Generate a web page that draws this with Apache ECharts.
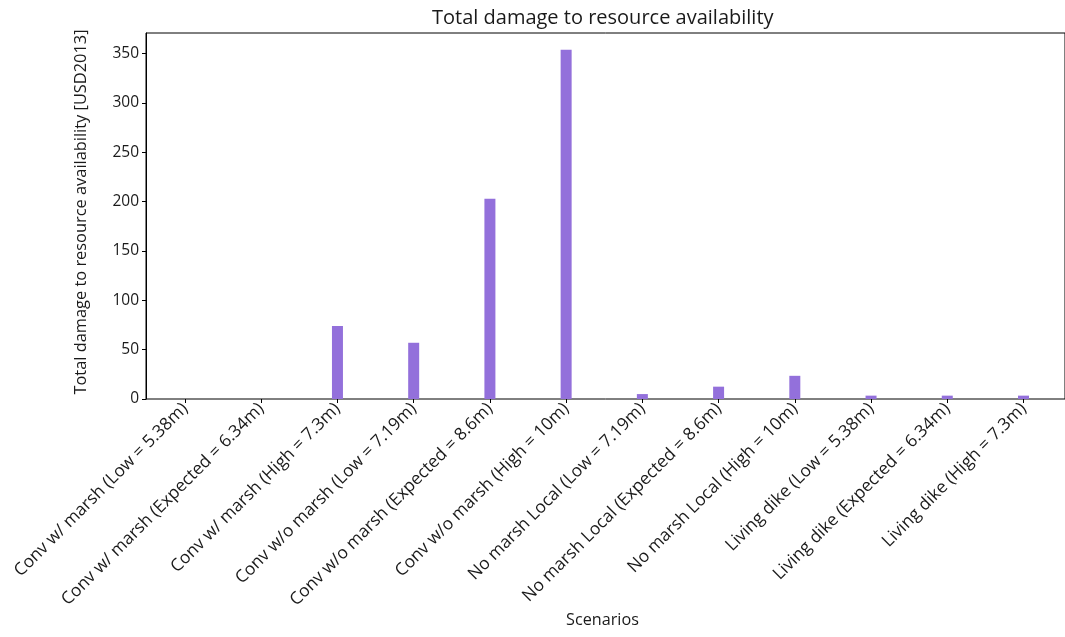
<!DOCTYPE html>
<html><head><meta charset="utf-8">
<script src="https://cdn.jsdelivr.net/npm/echarts@6/dist/echarts.min.js"></script>
<style>html,body{margin:0;padding:0;background:#fff}#c{width:1065px;height:637px}</style>
</head><body><div id="c"></div>
<script>
const categories = [
  "Conv w/ marsh (Low = 5.38m)",
  "Conv w/ marsh (Expected = 6.34m)",
  "Conv w/ marsh (High = 7.3m)",
  "Conv w/o marsh (Low = 7.19m)",
  "Conv w/o marsh (Expected = 8.6m)",
  "Conv w/o marsh (High = 10m)",
  "No marsh Local (Low = 7.19m)",
  "No marsh Local (Expected = 8.6m)",
  "No marsh Local (High = 10m)",
  "Living dike (Low = 5.38m)",
  "Living dike (Expected = 6.34m)",
  "Living dike (High = 7.3m)"
];
const damage = [0, 0, 74, 57, 203, 354, 5, 12.5, 23.5, 3.4, 3.4, 3.4];
const yTicks = [0, 50, 100, 150, 200, 250, 300, 350];

const font = "Open Sans";
const textColor = '#1a1a1a';
const chart = echarts.init(document.getElementById('c'), null, {renderer: 'canvas'});
chart.setOption({
  animation: false,
  title: {text: "Total damage to resource availability", left: 427, top: 3,
    textStyle: {fontFamily: font, fontSize: 20, fontWeight: 'normal', color: textColor}},
  grid: [
    {left: 146, right: -2, top: 33, bottom: 238, show: true, borderColor: '#000', borderWidth: 1},
    {left: 185, right: 41.5, top: 33, bottom: 238}
  ],
  xAxis: [
    {type: 'value', gridIndex: 0, min: 0, max: 1,
     axisLine: {show: false}, axisTick: {show: false}, axisLabel: {show: false}, splitLine: {show: false},
     name: "Scenarios", nameLocation: 'middle', nameGap: 213,
     nameTextStyle: {fontFamily: font, fontSize: 16.2, color: textColor, padding: [0, 6, 0, 0]}},
    {type: 'category', gridIndex: 1, data: categories, boundaryGap: false,
     axisLine: {show: false},
     axisTick: {show: true, length: 4, lineStyle: {color: '#000'}},
     axisLabel: {rotate: 45, interval: 0, margin: 7, fontFamily: font, fontSize: 17.3, color: textColor}}
  ],
  yAxis: [
    {type: 'value', gridIndex: 0, min: 0, max: 371, interval: 50,
     name: "Total damage to resource availability [USD2013]", nameLocation: 'middle', nameGap: 57,
     nameTextStyle: {fontFamily: font, fontSize: 16.4, color: textColor, padding: [0, 0, 0, 8]},
     splitLine: {show: false},
     axisLine: {show: true, lineStyle: {color: '#000'}},
     axisTick: {show: true, length: 4, lineStyle: {color: '#000'}},
     axisLabel: {showMaxLabel: false, margin: 7, fontFamily: font, fontSize: 15.5, color: textColor,
       formatter: v => yTicks.includes(v) ? String(v) : ''}},
    {type: 'value', gridIndex: 1, min: 0, max: 371, show: false}
  ],
  series: [
    {type: 'bar', xAxisIndex: 1, yAxisIndex: 1, data: damage, barWidth: 11, itemStyle: {color: '#9370DB'}}
  ]
});
</script></body></html>
